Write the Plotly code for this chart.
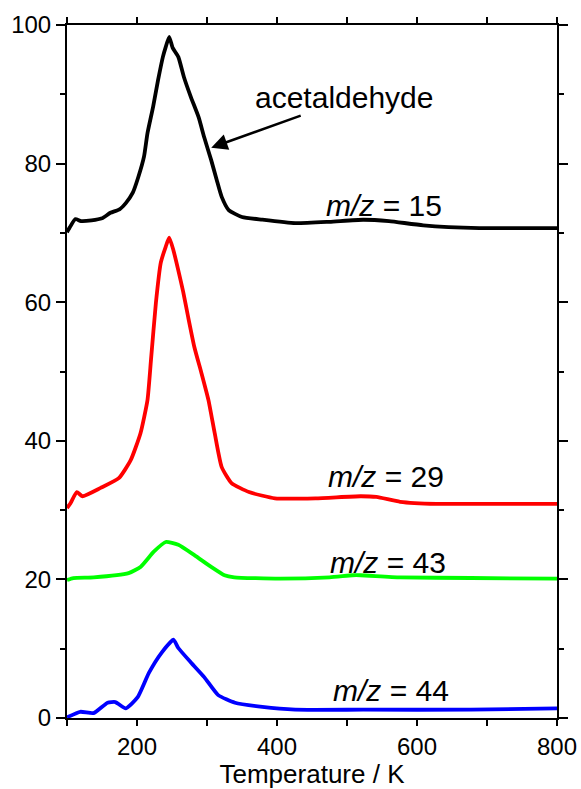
import plotly.graph_objects as go

# m/z = 15 (black)
T15 = [100, 104, 112, 120, 135, 150, 162, 175, 184, 194, 202, 210, 215, 223, 230, 237, 241, 246, 251, 259,
       267, 277, 288, 296, 306, 314, 321, 331, 350, 379, 426, 475, 523, 560, 609, 689, 750, 800]
Y15 = [70.1, 70.8, 72.0, 71.7, 71.8, 72.1, 72.9, 73.4, 74.3, 75.8, 78.1, 81.0, 84.4, 88.2, 92.0, 95.4, 96.8, 98.3, 96.7, 95.4,
       92.5, 89.6, 86.7, 83.8, 80.5, 77.6, 75.2, 73.3, 72.3, 71.9, 71.4, 71.6, 71.9, 71.7, 71.1, 70.7, 70.7, 70.7]

# m/z = 29 (red)
T29 = [100, 105, 114, 122, 148, 174, 191, 205, 215, 220, 227, 234, 241, 246, 252, 259, 266, 273, 282, 292,
       302, 311, 321, 335, 360, 397, 455, 519, 542, 576, 628, 700, 800]
Y29 = [30.3, 31.0, 32.6, 32.0, 33.2, 34.6, 37.2, 41.1, 45.9, 51.7, 59.9, 65.7, 68.0, 69.3, 67.5, 64.6, 61.5, 57.9, 53.5, 49.8,
       45.9, 41.1, 36.2, 33.9, 32.6, 31.7, 31.7, 32.0, 31.9, 31.2, 30.9, 30.9, 30.9]

# m/z = 43 (green)
T43 = [100, 109, 138, 188, 205, 224, 241, 259, 282, 306, 325, 339, 403, 475, 508, 519, 576, 677, 800]
Y43 = [19.9, 20.2, 20.3, 20.9, 21.8, 24.0, 25.4, 25.0, 23.5, 21.8, 20.6, 20.3, 20.1, 20.3, 20.6, 20.6, 20.3, 20.2, 20.1]

# m/z = 44 (blue)
T44 = [100, 119, 138, 158, 169, 184, 201, 217, 235, 252, 259, 278, 296, 316, 340, 379, 426, 523, 677, 800]
Y44 = [0.1, 0.9, 0.7, 2.2, 2.3, 1.4, 3.0, 6.5, 9.4, 11.3, 10.1, 7.9, 5.9, 3.3, 2.2, 1.6, 1.2, 1.2, 1.2, 1.4]

LABELS = ["15", "29", "43", "44"]
COLORS = ["#000000", "#ff0000", "#00ff00", "#0000ff"]
LABEL_X = [553, 555, 559, 563]
LABEL_Y = [74.0, 34.8, 22.4, 4.0]

FONT = "Liberation Sans, Arial, sans-serif"

fig = go.Figure()
for name, xs, ys, col in zip(LABELS, [T15, T29, T43, T44], [Y15, Y29, Y43, Y44], COLORS):
    fig.add_trace(go.Scatter(x=xs, y=ys, mode="lines", name="m/z = " + name,
                             line=dict(color=col, width=3.8, shape="spline", smoothing=0.5),
                             showlegend=False))

annotations = []
for name, lx, ly in zip(LABELS, LABEL_X, LABEL_Y):
    annotations.append(dict(x=lx, y=ly, xref="x", yref="y", text="<i>m/z</i> = " + name,
                            showarrow=False, font=dict(family=FONT, size=30, color="#000")))

annotations.append(dict(x=495, y=89.5, xref="x", yref="y", text="acetaldehyde", showarrow=False,
                        font=dict(family=FONT, size=30, color="#000")))
annotations.append(dict(x=306, y=82.3, xref="x", yref="y", ax=436, ay=87.0, axref="x", ayref="y",
                        text="", showarrow=True, arrowhead=2, arrowsize=1.3, arrowwidth=2.5,
                        arrowcolor="#000"))

fig.update_layout(
    width=581, height=789,
    margin=dict(l=67, r=24, t=25, b=71),
    paper_bgcolor="white", plot_bgcolor="white",
    font=dict(family=FONT, size=24, color="#000"),
    annotations=annotations,
)
fig.update_xaxes(range=[100, 800], dtick=200, tick0=0, showgrid=False, zeroline=False, automargin=False,
                 showline=True, linecolor="#000", linewidth=2, mirror="allticks",
                 ticks="outside", ticklen=6, tickwidth=1.5, tickcolor="#000",
                 minor=dict(dtick=100, ticks="outside", ticklen=6, tickwidth=1.5, tickcolor="#000"),
                 tickfont=dict(family=FONT, size=24),
                 title=dict(text="Temperature / K", font=dict(family=FONT, size=26), standoff=0))
fig.update_yaxes(range=[0, 100], dtick=20, showgrid=False, zeroline=False, automargin=False,
                 showline=True, linecolor="#000", linewidth=2, mirror="allticks",
                 ticks="outside", ticklen=9, tickwidth=1.5, tickcolor="#000",
                 minor=dict(dtick=10, ticks="outside", ticklen=5, tickwidth=1.5, tickcolor="#000"),
                 tickfont=dict(family=FONT, size=24))

fig.write_html("out.html")
